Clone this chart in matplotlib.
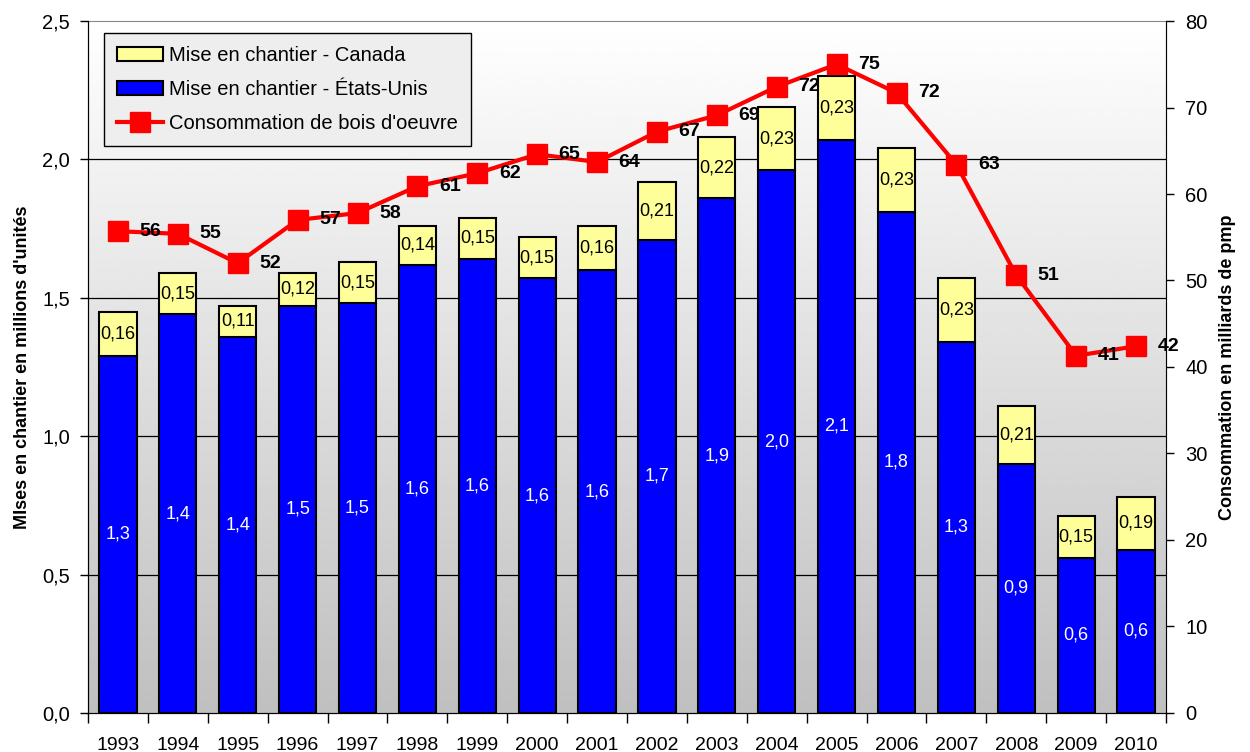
import numpy as np
import matplotlib
matplotlib.use('Agg')
import matplotlib.pyplot as plt
from matplotlib.lines import Line2D
from matplotlib.patches import Patch

plt.rcParams['font.family'] = ['Liberation Sans', 'DejaVu Sans']

annees = ['1993', '1994', '1995', '1996', '1997', '1998', '1999', '2000', '2001',
          '2002', '2003', '2004', '2005', '2006', '2007', '2008', '2009', '2010']
etats_unis = [1.29, 1.44, 1.36, 1.47, 1.48, 1.62, 1.64, 1.57, 1.60,
              1.71, 1.86, 1.96, 2.07, 1.81, 1.34, 0.90, 0.56, 0.59]
canada = [0.16, 0.15, 0.11, 0.12, 0.15, 0.14, 0.15, 0.15, 0.16,
          0.21, 0.22, 0.23, 0.23, 0.23, 0.23, 0.21, 0.15, 0.19]
consommation = [55.7, 55.4, 52.0, 57.0, 57.8, 60.9, 62.4, 64.6, 63.7,
                67.2, 69.1, 72.4, 75.0, 71.7, 63.4, 50.6, 41.3, 42.4]


def virgule(v, d):
    return f"{v:.{d}f}".replace('.', ',')


fig = plt.figure(figsize=(12.5, 7.52), dpi=100)
ax = fig.add_axes([0.0704, 0.052, 0.8624, 0.920])
x = np.arange(len(annees))

# fond en degrade
degrade = np.linspace(1.0, 0.75, 256).reshape(-1, 1)
ax.imshow(degrade, cmap='gray', vmin=0, vmax=1, aspect='auto',
          extent=[-0.5, len(annees) - 0.5, 0, 2.5], zorder=0)

for g in [0.5, 1.0, 1.5, 2.0]:
    ax.axhline(g, color='black', lw=0.9, zorder=1)

larg = 0.62
ax.bar(x, etats_unis, width=larg, color='#0000ff', edgecolor='black', lw=1.5, zorder=2)
ax.bar(x, canada, width=larg, bottom=etats_unis, color='#ffff99', edgecolor='black', lw=1.5, zorder=2)

for i in range(len(annees)):
    ax.text(x[i], etats_unis[i] / 2, virgule(etats_unis[i], 1), color='white',
            ha='center', va='center', fontsize=13, zorder=3)
    ax.text(x[i], etats_unis[i] + canada[i] / 2, virgule(canada[i], 2), color='black',
            ha='center', va='center', fontsize=13, zorder=3)

ax.set_xlim(-0.5, len(annees) - 0.5)
ax.set_ylim(0, 2.5)
ax.set_yticks([0, 0.5, 1.0, 1.5, 2.0, 2.5])
ax.set_yticklabels([virgule(v, 1) for v in [0, 0.5, 1.0, 1.5, 2.0, 2.5]])
ax.set_xticks(np.arange(len(annees) + 1) - 0.5)
ax.set_xticklabels([])
ax.set_xticks(x, minor=True)
ax.set_xticklabels(annees, minor=True)
ax.tick_params(axis='x', which='minor', length=0, labelsize=14, pad=17)
ax.tick_params(axis='x', which='major', length=7, width=1, direction='out')
ax.tick_params(axis='y', length=6, width=1, direction='out', labelsize=14.5, pad=7)
ax.set_ylabel("MIses en chantier en millions d'unités", fontsize=13, fontweight='bold', labelpad=8)
for s in ['top', 'right']:
    ax.spines[s].set_color('#888888')
ax.spines['left'].set_color('black')
ax.spines['bottom'].set_color('black')

ax2 = ax.twinx()
ax2.plot(x, consommation, color='red', lw=3, marker='s', markersize=14, zorder=4)
for i in range(len(annees)):
    ax2.text(x[i] + 0.36, consommation[i], f"{consommation[i]:.0f}", fontsize=14,
             fontweight='bold', ha='left', va='center', zorder=5)
ax2.set_ylim(0, 80)
ax2.set_yticks(range(0, 81, 10))
ax2.tick_params(axis='y', length=6, width=1, direction='out', labelsize=14.5, pad=8)
ax2.set_ylabel('Consommation en milliards de pmp', fontsize=13, fontweight='bold', labelpad=8)
ax2.spines['right'].set_color('black')
ax2.spines['top'].set_visible(False)

poignees = [
    Patch(facecolor='#ffff99', edgecolor='black', lw=1.5, label='Mise en chantier - Canada'),
    Patch(facecolor='#0000ff', edgecolor='black', lw=1.5, label='Mise en chantier - États-Unis'),
    Line2D([0], [0], color='red', lw=3, marker='s', markersize=14, label="Consommation de bois d'oeuvre"),
]
leg = ax2.legend(handles=poignees, loc='upper left', bbox_to_anchor=(0.0148, 0.983),
                 borderaxespad=0, fontsize=14.5, frameon=True, fancybox=False,
                 edgecolor='black', facecolor='#eeeeee', framealpha=1, handlelength=2.3,
                 labelspacing=0.75, borderpad=0.65, handletextpad=0.3)
leg.get_frame().set_linewidth(1)

fig.savefig('out.png', dpi=100)
